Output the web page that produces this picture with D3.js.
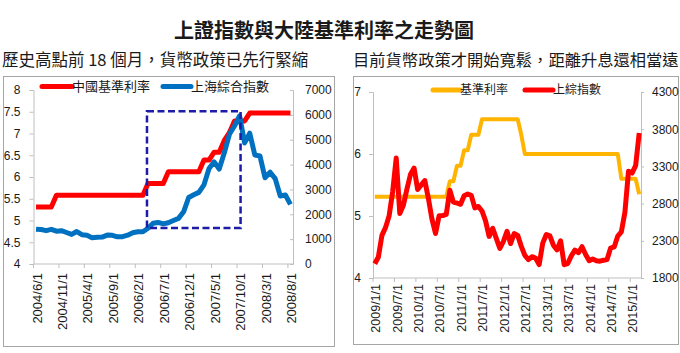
<!DOCTYPE html>
<html>
<head>
<meta charset="utf-8">
<script src="https://cdn.jsdelivr.net/npm/d3@7"></script>
<style>
body { margin: 0; background: #fff; }
svg text { font-family: "Liberation Sans", Arial, sans-serif; fill: #1a1a1a; }
svg text.cjk { font-family: "Noto Sans CJK TC", "Noto Sans CJK SC", sans-serif; }
</style>
</head>
<body>
<svg id="draw" width="680" height="353"></svg>
<script>
// ---- data (monthly) ----
let title = "上證指數與大陸基準利率之走勢圖";
let subLeft = "歷史高點前 18 個月，貨幣政策已先行緊縮";
let subRight = "目前貨幣政策才開始寬鬆，距離升息還相當遠";

// 2004/6 .. 2008/8
let rate0408 = [5.31, 5.31, 5.31, 5.31,
    5.58, 5.58, 5.58, 5.58, 5.58, 5.58, 5.58, 5.58, 5.58, 5.58, 5.58, 5.58, 5.58, 5.58, 5.58, 5.58, 5.58, 5.58,
    5.85, 5.85, 5.85, 5.85,
    6.12, 6.12, 6.12, 6.12, 6.12, 6.12, 6.12,
    6.39, 6.39, 6.57, 6.57, 6.84, 7.02, 7.29, 7.29, 7.29,
    7.47, 7.47, 7.47, 7.47, 7.47, 7.47, 7.47, 7.47, 7.47];
let shIdx0408 = [1399, 1386, 1342, 1396, 1320, 1340, 1267,
    1191, 1306, 1181, 1159, 1060, 1080, 1083, 1162, 1155, 1092, 1099, 1161,
    1258, 1299, 1298, 1440, 1641, 1672, 1612, 1658, 1752, 1837, 2099, 2675,
    2786, 2881, 3183, 3841, 4109, 3820, 4471, 5218, 5552, 5954, 4871, 5262,
    4383, 4348, 3472, 3693, 3433, 2736, 2776, 2397];

// 2009/1 .. 2015/3
let rate0915 = [5.31, 5.31, 5.31, 5.31, 5.31, 5.31, 5.31, 5.31, 5.31, 5.31, 5.31, 5.31,
    5.31, 5.31, 5.31, 5.31, 5.31, 5.31, 5.31, 5.31, 5.31, 5.56, 5.56, 5.81,
    5.81, 6.06, 6.06, 6.31, 6.31, 6.31, 6.56, 6.56, 6.56, 6.56, 6.56, 6.56,
    6.56, 6.56, 6.56, 6.56, 6.56, 6.31, 6.00, 6.00, 6.00, 6.00, 6.00, 6.00,
    6.00, 6.00, 6.00, 6.00, 6.00, 6.00, 6.00, 6.00, 6.00, 6.00, 6.00, 6.00,
    6.00, 6.00, 6.00, 6.00, 6.00, 6.00, 6.00, 6.00, 6.00, 5.60, 5.60, 5.60,
    5.60, 5.60, 5.35];
let shIdx0915 = [1991, 2082, 2373, 2477, 2633, 2959, 3412, 2667, 2779, 2996, 3195, 3277,
    2989, 3051, 3110, 2870, 2592, 2398, 2638, 2639, 2656, 2979, 2820, 2808,
    2791, 2905, 2928, 2911, 2743, 2762, 2701, 2567, 2359, 2469, 2333, 2199,
    2292, 2428, 2263, 2397, 2373, 2225, 2103, 2047, 2086, 2069, 1980, 2269,
    2385, 2366, 2237, 2178, 2301, 1979, 1994, 2098, 2175, 2141, 2220, 2116,
    2033, 2056, 2033, 2026, 2039, 2048, 2202, 2217, 2364, 2420, 2683, 3235,
    3210, 3310, 3748];

let leftTicksL = [4, 4.5, 5, 5.5, 6, 6.5, 7, 7.5, 8];
let leftTicksR = [0, 1000, 2000, 3000, 4000, 5000, 6000, 7000];
let rightTicksL = [4, 5, 6, 7];
let rightTicksR = [1800, 2300, 2800, 3300, 3800, 4300];

function months(y, m, n) {
    let out = [];
    for (let i = 0; i < n; i++) {
        let mm = m - 1 + i;
        out.push((y + Math.floor(mm / 12)) + "/" + (mm % 12 + 1) + "/1");
    }
    return out;
}
let cats0408 = months(2004, 6, shIdx0408.length);
let cats0915 = months(2009, 1, shIdx0915.length);

// dashed highlight box: from 2006/4 to 2007/10, index 1450 .. 6150
let highlight = { from: "2006/4/1", to: "2007/10/1", low: 1450, high: 6150 };

let svg = d3.select("#draw");
let axisGray = "#bfbfbf";

svg.append("text").attr("x", 324).attr("y", 38).attr("text-anchor", "middle")
    .attr("class", "cjk").style("font-size", "20px").style("font-weight", "bold").text(title);
svg.append("text").attr("x", 2).attr("y", 66).attr("class", "cjk")
    .style("font-size", "16.5px").text(subLeft);
svg.append("text").attr("x", 353).attr("y", 66).attr("class", "cjk")
    .style("font-size", "16.3px").text(subRight);

function panel(o) {
    let g = svg.append("g");
    g.append("rect").attr("x", o.frame[0]).attr("y", o.frame[1])
        .attr("width", o.frame[2]).attr("height", o.frame[3])
        .attr("fill", "none").attr("stroke", "#a6a6a6");

    let x = d3.scaleBand().domain(o.cats).range([o.x0, o.x1]).padding(0);
    let bw = x.bandwidth();
    let yL = d3.scaleLinear().domain(o.domL).range([o.yb, o.yt]);
    let yR = d3.scaleLinear().domain(o.domR).range([o.yb, o.yt]);

    let aL = g.append("g").attr("transform", "translate(" + o.x0 + ",0)")
        .call(d3.axisLeft(yL).tickValues(o.ticksL).tickSize(4).tickPadding(o.padL)
            .tickFormat(d3.format("")));
    let aR = g.append("g").attr("transform", "translate(" + o.x1 + ",0)")
        .call(d3.axisRight(yR).tickValues(o.ticksR).tickSize(o.tickR).tickPadding(o.padR)
            .tickFormat(d3.format("d")));
    [aL, aR].forEach(a => {
        a.select(".domain").attr("stroke", axisGray);
        a.selectAll(".tick line").attr("stroke", axisGray);
        a.selectAll("text").style("font-size", "12px").attr("fill", "#1a1a1a");
    });

    // category axis
    g.append("line").attr("x1", o.x0).attr("x2", o.x1).attr("y1", o.yb).attr("y2", o.yb)
        .attr("stroke", axisGray);
    let shown = o.cats.filter((c, i) => i % o.every === 0);
    g.selectAll(".xt").data(shown).enter().append("line")
        .attr("x1", c => x(c)).attr("x2", c => x(c))
        .attr("y1", o.yb).attr("y2", o.yb + 4).attr("stroke", axisGray);
    g.selectAll(".xl").data(shown).enter().append("text")
        .attr("transform", c => "translate(" + (x(c) + bw / 2 + 1) + "," + (o.yb + o.labOff) + ") rotate(-90)")
        .attr("text-anchor", "end").attr("dy", "0.35em")
        .style("font-size", o.xFont).text(c => c);

    let line = (s, ys) => d3.line().x((d, i) => x(o.cats[i]) + bw / 2).y(d => ys(d))(s);
    g.append("path").attr("d", line(o.rate, yL)).attr("fill", "none")
        .attr("stroke", o.rateColor).attr("stroke-width", o.rateW).attr("stroke-linejoin", "round");
    g.append("path").attr("d", line(o.index, yR)).attr("fill", "none")
        .attr("stroke", o.idxColor).attr("stroke-width", o.idxW).attr("stroke-linejoin", "round");

    if (o.box) {
        let bx0 = x(o.box.from) + bw / 2 - 1, bx1 = x(o.box.to) + bw / 2 + 1;
        g.append("rect").attr("x", bx0).attr("y", yR(o.box.high))
            .attr("width", bx1 - bx0).attr("height", yR(o.box.low) - yR(o.box.high))
            .attr("fill", "none").attr("stroke", "#1c1ca8").attr("stroke-width", 2.5)
            .attr("stroke-dasharray", "7,3.5");
    }

    o.legend.forEach(l => {
        g.append("line").attr("x1", l.x).attr("x2", l.x + l.w).attr("y1", o.legY).attr("y2", o.legY)
            .attr("stroke", l.color).attr("stroke-width", 5).attr("stroke-linecap", "round");
        g.append("text").attr("x", l.x + l.w).attr("y", o.legY).attr("dy", "0.36em")
            .attr("class", "cjk").style("font-size", o.legFont).text(l.text);
    });
}

panel({
    frame: [3.5, 76.5, 331, 270],
    cats: cats0408, x0: 33.5, x1: 293, yb: 264, yt: 90,
    domL: [4, 8], domR: [0, 7000], ticksL: leftTicksL, ticksR: leftTicksR,
    padL: 9, tickR: -3, padR: 12, every: 5, labOff: 9, xFont: "13px",
    rate: rate0408, index: shIdx0408, rateColor: "#ff0000", idxColor: "#0070c0",
    rateW: 5, idxW: 5, box: highlight,
    legY: 86.5, legFont: "13px",
    legend: [{ x: 42, w: 30, color: "#ff0000", text: "中國基準利率" },
             { x: 163, w: 28, color: "#0070c0", text: "上海綜合指數" }]
});

panel({
    frame: [353.5, 76.5, 325, 268],
    cats: cats0915, x0: 373, x1: 641, yb: 278, yt: 92,
    domL: [4, 7], domR: [1800, 4300], ticksL: rightTicksL, ticksR: rightTicksR,
    padL: 8, tickR: 3, padR: 8, every: 6, labOff: 6, xFont: "12.5px",
    rate: rate0915, index: shIdx0915, rateColor: "#ffb400", idxColor: "#ff0000",
    rateW: 4, idxW: 5, box: null,
    legY: 90, legFont: "12px",
    legend: [{ x: 433, w: 27, color: "#ffb400", text: "基準利率" },
             { x: 525, w: 28, color: "#ff0000", text: "上綜指數" }]
});
</script>
</body>
</html>
